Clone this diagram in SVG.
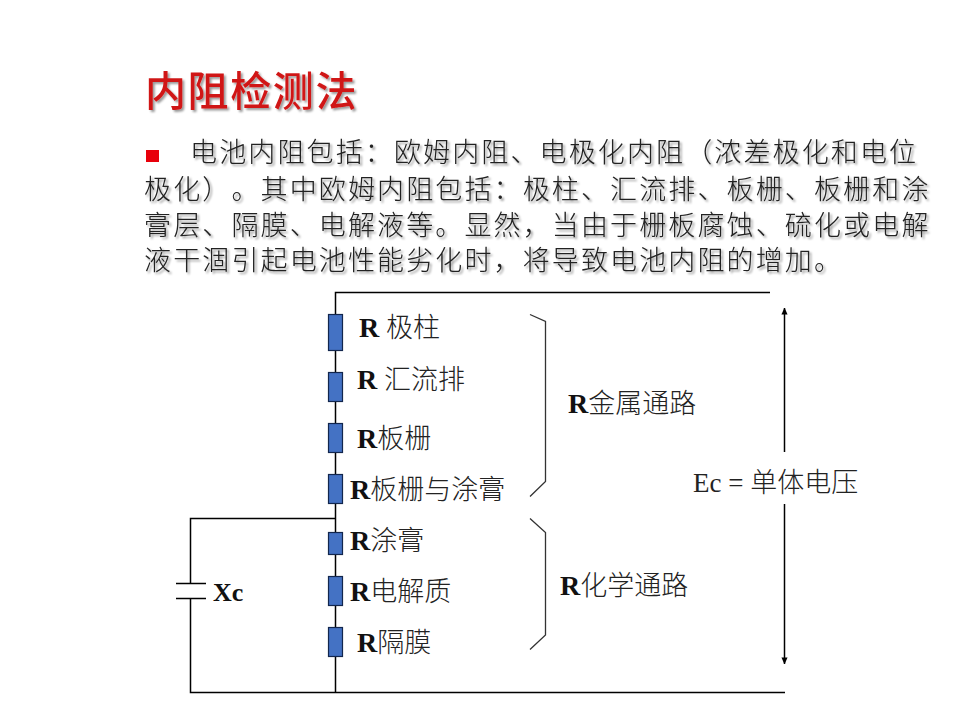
<svg xmlns="http://www.w3.org/2000/svg" width="960" height="720" viewBox="0 0 960 720">
<style>
text{font-family:"Liberation Serif","Noto Sans CJK SC",serif;fill:#111;text-spacing-trim:space-all;font-feature-settings:"chws" 0,"palt" 0}
.t{font-size:41px;letter-spacing:1.6px;fill:#d01818;font-weight:500;filter:url(#sh)}
.b{font-size:27px;letter-spacing:2.13px;font-weight:300;fill:#222;filter:url(#sh)}
.l{font-size:27px;font-weight:300;fill:#222}
.l tspan.r{font-weight:700;font-size:28px;fill:#111}
.w{fill:none;stroke:#000;stroke-width:1.5}
.br{fill:none;stroke:#333;stroke-width:1.3}
.res{fill:#4472c4;stroke:#12264d;stroke-width:1.2}
</style>
<defs>
<filter id="sh" x="-5%" y="-20%" width="110%" height="150%"><feDropShadow dx="2" dy="2" stdDeviation="1.2" flood-color="#000" flood-opacity=".4"/></filter>
<marker id="a" viewBox="0 0 8 8" refX="7.5" refY="4" markerWidth="7" markerHeight="7" markerUnits="userSpaceOnUse" orient="auto-start-reverse"><path d="M0 0.5L8 4L0 7.5z" fill="#000"/></marker>
</defs>
<rect width="960" height="720" fill="#fff"/>
<g id="title"><text class="t" x="145" y="106">内阻检测法</text></g>
<g id="body">
<rect x="146" y="150" width="13" height="12" fill="#e8000b"/>
<text class="b" x="190" y="162">电池内阻包括：欧姆内阻、电极化内阻（浓差极化和电位</text>
<text class="b" x="144" y="199">极化）。其中欧姆内阻包括：极柱、汇流排、板栅、板栅和涂</text>
<text class="b" x="144" y="235">膏层、隔膜、电解液等。显然，当由于栅板腐蚀、硫化或电解</text>
<text class="b" x="144" y="270">液干涸引起电池性能劣化时，将导致电池内阻的增加。</text>
</g>
<g id="connectors">
<path class="w" d="M770 292.500H335.500V692.500"/>
<path class="w" d="M335.500 518.500H190.500V583.500M190.500 598.500V692.500H785"/>
<path class="w" d="M176 583.500H206M176 598.500H206"/>
<path class="w" d="M784.500 308V452" marker-start="url(#a)"/>
<path class="w" d="M784.500 504V664" marker-end="url(#a)"/>
<path class="br" d="M530 314.500L545.500 321.500V481.500L530 496.500"/>
<path class="br" d="M530 518.500L545.500 532.500V635L530 649.500"/>
</g>
<g id="r1"><rect class="res" x="328.500" y="314.500" width="14" height="36"/><text class="l" x="359" y="337"><tspan class="r">R</tspan> 极柱</text></g>
<g id="r2"><rect class="res" x="328.500" y="372.500" width="14" height="29"/><text class="l" x="357" y="389"><tspan class="r">R</tspan> 汇流排</text></g>
<g id="r3"><rect class="res" x="328.500" y="423.500" width="14" height="29"/><text class="l" x="357" y="448"><tspan class="r">R</tspan>板栅</text></g>
<g id="r4"><rect class="res" x="328.500" y="474.500" width="14" height="29"/><text class="l" x="350" y="499"><tspan class="r">R</tspan>板栅与涂膏</text></g>
<g id="r5"><rect class="res" x="328.500" y="532.500" width="14" height="22"/><text class="l" x="350" y="550"><tspan class="r">R</tspan>涂膏</text></g>
<g id="r6"><rect class="res" x="328.500" y="576.500" width="14" height="29"/><text class="l" x="350" y="601"><tspan class="r">R</tspan>电解质</text></g>
<g id="r7"><rect class="res" x="328.500" y="627.500" width="14" height="29"/><text class="l" x="357" y="652"><tspan class="r">R</tspan>隔膜</text></g>
<g id="xc"><text class="l" x="213" y="601"><tspan class="r" style="font-size:26px">Xc</tspan></text></g>
<g id="metal"><text class="l" x="568" y="413"><tspan class="r">R</tspan>金属通路</text></g>
<g id="chem"><text class="l" x="560" y="595"><tspan class="r">R</tspan>化学通路</text></g>
<g id="ec"><text class="l" x="693" y="492">Ec = 单体电压</text></g>
</svg>
